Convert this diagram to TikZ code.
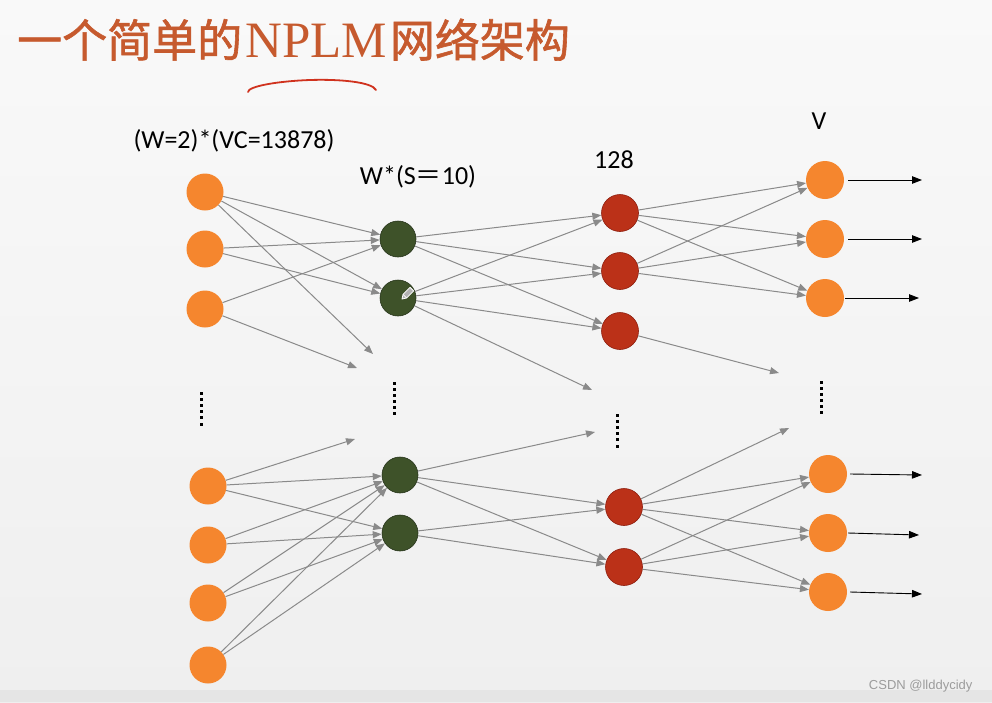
\documentclass[tikz,border=0pt]{standalone}
\usepackage{fontspec}
\setmainfont{Carlito}
\newfontfamily\cjk{Noto Sans CJK SC}
\newfontfamily\cjkt[FakeBold=1.3]{Noto Sans CJK SC}
\newfontfamily\nplmfont{Liberation Serif}
\newfontfamily\wmfont{Liberation Sans}
\usetikzlibrary{arrows.meta}
\definecolor{bgtop}{HTML}{F9F9F9}
\definecolor{bgbot}{HTML}{EFEFEF}
\definecolor{nodeorange}{HTML}{F5862E}
\definecolor{hidgreen}{HTML}{3E5229}
\definecolor{hidborder}{HTML}{26331A}
\definecolor{rednode}{HTML}{BB3118}
\definecolor{redborder}{HTML}{8E1E0E}
\definecolor{edgegray}{HTML}{8A8A8A}
\definecolor{titlecol}{HTML}{C65A2E}
\definecolor{underlinecol}{HTML}{D0321E}
\definecolor{wmgray}{HTML}{9C9C9C}
\begin{document}
\begin{tikzpicture}[x=1pt,y=-1pt,
  inpnode/.style={circle, fill=nodeorange, minimum size=37pt, inner sep=0pt},
  hidnode/.style={circle, fill=hidgreen, draw=hidborder, line width=0.6pt, minimum size=36pt, inner sep=0pt},
  rnode/.style={circle, fill=rednode, draw=redborder, line width=0.6pt, minimum size=37pt, inner sep=0pt},
  outnode/.style={circle, fill=nodeorange, minimum size=38pt, inner sep=0pt},
  edge/.style={draw=edgegray, line width=1pt, -{Triangle[length=9pt,width=7pt]}},
  outarr/.style={draw=black, line width=0.9pt, -{Triangle[length=10pt,width=7.5pt]}},
  lbl/.style={font=\fontsize{26}{30}\selectfont, text=black},
  dotsq/.style={fill=black}
]
\shade[top color=bgtop, bottom color=bgbot] (0,0) rectangle (992,702);
\fill[bgbot!96!black] (0,690) rectangle (992,702);
\useasboundingbox (0,0) rectangle (992,702);

% title
\node[anchor=base west, inner sep=0pt, text=titlecol, font=\fontsize{45}{50}\selectfont] (title) at (17,57)
  {\cjkt 一个简单的\kern3pt{\nplmfont\fontsize{51}{55}\selectfont NPLM}\kern3pt 网络架构};
\draw[underlinecol, line width=1.8pt, line cap=round]
  (248,92) .. controls (248,86) and (280,81) .. (310,80)
  .. controls (340,79) and (372,82) .. (376,90);

% labels
\node[lbl] (lab1) at (234,141) {(W=2)*(VC=13878)};
\node[lbl] (lab2) at (418,177) {W*(S{\cjk ＝}10)};
\node[lbl] (lab3) at (614,160) {128};
\node[lbl] (lab4) at (819,121) {V};

% input layer
\node[inpnode] (I1) at (205,192) {};
\node[inpnode] (I2) at (205,249) {};
\node[inpnode] (I3) at (205,309) {};
\node[inpnode] (I4) at (208,486) {};
\node[inpnode] (I5) at (208,545) {};
\node[inpnode] (I6) at (208,603) {};
\node[inpnode] (I7) at (208,665) {};

% hidden 1
\node[hidnode] (H1) at (398,239) {};
\node[hidnode] (H2) at (398,298) {};
\node[hidnode] (H3) at (400,475) {};
\node[hidnode] (H4) at (400,533) {};

% hidden 2
\node[rnode] (R1) at (620,213) {};
\node[rnode] (R2) at (620,271) {};
\node[rnode] (R3) at (620,331) {};
\node[rnode] (R4) at (624,507) {};
\node[rnode] (R5) at (624,567) {};

% output
\node[outnode] (O1) at (825,180) {};
\node[outnode] (O2) at (825,239) {};
\node[outnode] (O3) at (825,298) {};
\node[outnode] (O4) at (828,474) {};
\node[outnode] (O5) at (828,533) {};
\node[outnode] (O6) at (828,592) {};

% free ends
\coordinate (fa) at (373,354);
\coordinate (fb) at (357,368);
\coordinate (fc) at (355,439);
\coordinate (fd) at (592,390);
\coordinate (fe) at (595,432);
\coordinate (ff) at (779,373);
\coordinate (fg) at (789,428);
\coordinate (e1) at (922,180);
\coordinate (e2) at (922,239);
\coordinate (e3) at (919,298);
\coordinate (e4) at (922,475);
\coordinate (e5) at (919,535);
\coordinate (e6) at (922,594);

% dots
\foreach \i in {0,...,5} {
  \fill[dotsq] ({201-1.5},{393+6.2*\i-1.5}) rectangle +(3,3);
  \fill[dotsq] ({394-1.5},{383+6.1*\i-1.5}) rectangle +(3,3);
  \fill[dotsq] ({617-1.5},{415+6.2*\i-1.5}) rectangle +(3,3);
  \fill[dotsq] ({821-1.5},{382+6.0*\i-1.5}) rectangle +(3,3);
}

% input -> hidden1
\draw[edge] (I1) -- (H1);
\draw[edge] (I1) -- (H2);
\draw[edge] (I1) -- (fa);
\draw[edge] (I2) -- (H1);
\draw[edge] (I2) -- (H2);
\draw[edge] (I3) -- (H1);
\draw[edge] (I3) -- (fb);
\draw[edge] (I4) -- (fc);
\draw[edge] (I4) -- (H3);
\draw[edge] (I4) -- (H4);
\draw[edge] (I5) -- (H3);
\draw[edge] (I5) -- (H4);
\draw[edge] (I6) -- (H3);
\draw[edge] (I6) -- (H4);
\draw[edge] (I7) -- (H3);
\draw[edge] (I7) -- (H4);

% hidden1 -> hidden2
\draw[edge] (H1) -- (R1);
\draw[edge] (H1) -- (R2);
\draw[edge] (H1) -- (R3);
\draw[edge] (H2) -- (R1);
\draw[edge] (H2) -- (R2);
\draw[edge] (H2) -- (R3);
\draw[edge] (H2) -- (fd);
\draw[edge] (H3) -- (fe);
\draw[edge] (H3) -- (R4);
\draw[edge] (H3) -- (R5);
\draw[edge] (H4) -- (R4);
\draw[edge] (H4) -- (R5);

% hidden2 -> output
\draw[edge] (R1) -- (O1);
\draw[edge] (R1) -- (O2);
\draw[edge] (R1) -- (O3);
\draw[edge] (R2) -- (O1);
\draw[edge] (R2) -- (O2);
\draw[edge] (R2) -- (O3);
\draw[edge] (R3) -- (ff);
\draw[edge] (R4) -- (fg);
\draw[edge] (R4) -- (O4);
\draw[edge] (R4) -- (O5);
\draw[edge] (R4) -- (O6);
\draw[edge] (R5) -- (O4);
\draw[edge] (R5) -- (O5);
\draw[edge] (R5) -- (O6);

% output arrows
\draw[outarr] ([xshift=4pt]O1.east) -- (e1);
\draw[outarr] ([xshift=4pt]O2.east) -- (e2);
\draw[outarr] ([xshift=1pt]O3.east) -- (e3);
\draw[outarr] ([xshift=3pt]O4.east) -- (e4);
\draw[outarr] ([xshift=1pt]O5.east) -- (e5);
\draw[outarr] ([xshift=3pt]O6.east) -- (e6);

% pencil cursor in H2
\draw[white, line width=0.8pt, fill=gray!60, line join=round]
  (402,299) -- (406.6,298.0) -- (413.7,290.9) -- (410.1,287.3) -- (403.0,294.4) -- cycle;
\draw[white, line width=0.6pt] (406.6,298.0) -- (403.0,294.4);

% watermark
\node[text=wmgray, font=\wmfont\fontsize{13}{15}\selectfont, anchor=east] (wm) at (976,686) {CSDN @llddycidy};
\end{tikzpicture}
\end{document}
